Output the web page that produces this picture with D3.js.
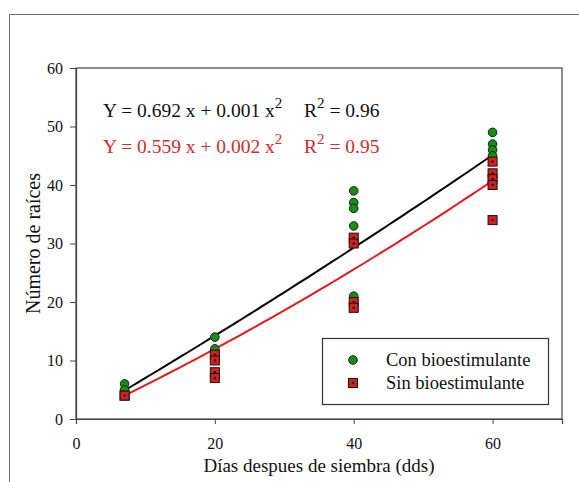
<!DOCTYPE html>
<html>
<head>
<meta charset="utf-8">
<script src="https://cdn.jsdelivr.net/npm/d3@7"></script>
<style>
  body { margin: 0; background: #fff; }
  svg text { font-family: "Liberation Serif", "Times New Roman", serif; }
</style>
</head>
<body>
<div id="chart"></div>
<script>
// Número de raíces vs días despues de siembra

// data
const conDays = [7, 7, 20, 20, 40, 40, 40, 40, 40, 60, 60, 60, 60]
const conRoots = [6, 5, 14, 12, 39, 37, 36, 33, 21, 49, 47, 46, 45]
const sinDays = [7, 7, 20, 20, 20, 20, 40, 40, 40, 40, 60, 60, 60, 60, 60]
const sinRoots = [4, 4, 11, 10, 8, 7, 31, 30, 20, 19, 44, 42, 41, 40, 34]

// regression coefficients (Y = a x + b x^2)
const conFit = [0.692, 0.001]
const sinFit = [0.559, 0.002]
const fitRange = [7, 60]

const xTicks = [0, 20, 40, 60]
const yTicks = [0, 10, 20, 30, 40, 50, 60]

const width = 579
const height = 482
const margin = { top: 68, right: 17, bottom: 63, left: 76 }

const svg = d3.select('#chart')
  .append('svg')
  .attr('width', width)
  .attr('height', height)

// outer frame (runs off the page right and bottom)
svg.append('rect')
  .attr('x', 9.5).attr('y', 14.5)
  .attr('width', 700).attr('height', 600)
  .attr('fill', 'none')
  .attr('stroke', '#6e6e6e')

const xScale = d3.scaleLinear()
  .domain([0, 70])
  .range([margin.left, width - margin.right])

const yScale = d3.scaleLinear()
  .domain([0, 60])
  .range([height - margin.bottom, margin.top])

// plot box
svg.append('rect')
  .attr('x', xScale(0)).attr('y', yScale(60))
  .attr('width', xScale(70) - xScale(0))
  .attr('height', yScale(0) - yScale(60))
  .attr('fill', 'none')
  .attr('stroke', '#444')
  .attr('stroke-width', 1.2)

const xAxis = d3.axisBottom(xScale).tickValues(xTicks).tickSizeOuter(0).tickSize(5).tickPadding(14)
const yAxis = d3.axisLeft(yScale).tickValues(yTicks).tickSizeOuter(0).tickSize(6).tickPadding(7)

svg.append('g')
  .attr('transform', `translate(0, ${yScale(0)})`)
  .call(xAxis)
svg.append('g')
  .attr('transform', `translate(${xScale(0)}, 0)`)
  .call(yAxis)

svg.selectAll('.domain').attr('stroke', '#444').attr('stroke-width', 1.2)
svg.selectAll('.tick line').attr('stroke', '#444')
svg.selectAll('.tick text')
  .attr('fill', '#111')
  .style('font-size', '16px')
  .style('font-family', '"Liberation Serif", serif')

// axis titles
svg.append('text')
  .attr('x', (xScale(0) + xScale(70)) / 2)
  .attr('y', 472)
  .attr('text-anchor', 'middle')
  .style('font-size', '19px')
  .attr('fill', '#111')
  .text('Días despues de siembra (dds)')

svg.append('text')
  .attr('transform', `translate(40, ${(yScale(0) + yScale(60)) / 2}) rotate(-90)`)
  .attr('text-anchor', 'middle')
  .style('font-size', '20px')
  .attr('fill', '#111')
  .text('Número de raíces')

// fitted curves
const fitPoints = (coef) => {
  const pts = []
  for (let x = fitRange[0]; x <= fitRange[1]; x += 1) {
    pts.push([x, coef[0] * x + coef[1] * x * x])
  }
  return pts
}
const line = d3.line()
  .x(d => xScale(d[0]))
  .y(d => yScale(d[1]))

svg.append('path')
  .datum(fitPoints(conFit))
  .attr('d', line)
  .attr('fill', 'none')
  .attr('stroke', '#000')
  .attr('stroke-width', 2)

svg.append('path')
  .datum(fitPoints(sinFit))
  .attr('d', line)
  .attr('fill', 'none')
  .attr('stroke', '#e01b1b')
  .attr('stroke-width', 2)

// markers
const green = '#1a8a1a'
const red = '#cc2222'

svg.append('g').selectAll('circle')
  .data(conDays.map((d, i) => [d, conRoots[i]]))
  .enter()
  .append('circle')
  .attr('cx', d => xScale(d[0]))
  .attr('cy', d => yScale(d[1]))
  .attr('r', 4.3)
  .attr('fill', green)
  .attr('stroke', '#0a2a0a')
  .attr('stroke-width', 1)

const drawSquare = (g, cx, cy) => {
  g.append('rect')
    .attr('x', cx - 4.5).attr('y', cy - 4.5)
    .attr('width', 9).attr('height', 9)
    .attr('fill', red)
    .attr('stroke', '#2a0a0a')
    .attr('stroke-width', 1)
  g.append('circle')
    .attr('cx', cx).attr('cy', cy)
    .attr('r', 1.2)
    .attr('fill', '#111')
}

const sq = svg.append('g')
sinDays.forEach((d, i) => drawSquare(sq, xScale(d), yScale(sinRoots[i])))

// equations
const eq = (y, color, a, b, r2) => {
  const t = svg.append('text')
    .attr('x', 103).attr('y', y)
    .attr('fill', color)
    .style('font-size', '19.5px')
  t.append('tspan').text(`Y = ${a} x + ${b} x`)
  t.append('tspan').attr('dy', -9).style('font-size', '15px').text('2')
  const t2 = svg.append('text')
    .attr('x', 304).attr('y', y)
    .attr('fill', color)
    .style('font-size', '19.5px')
  t2.append('tspan').text('R')
  t2.append('tspan').attr('dy', -9).style('font-size', '15px').text('2')
  t2.append('tspan').attr('dy', 9).text(` = ${r2}`)
}
eq(117, '#111', conFit[0].toFixed(3), conFit[1].toFixed(3), '0.96')
eq(153, '#d42a2a', sinFit[0].toFixed(3), sinFit[1].toFixed(3), '0.95')

// legend
const legend = svg.append('g')
legend.append('rect')
  .attr('x', 322.5).attr('y', 338.5)
  .attr('width', 226).attr('height', 66)
  .attr('fill', '#fff')
  .attr('stroke', '#333')
  .attr('stroke-width', 1.2)

legend.append('circle')
  .attr('cx', 353).attr('cy', 360)
  .attr('r', 4.3)
  .attr('fill', green)
  .attr('stroke', '#0a2a0a')
drawSquare(legend, 353, 383)

legend.append('text')
  .attr('x', 386).attr('y', 366)
  .style('font-size', '18.5px')
  .attr('fill', '#111')
  .text('Con bioestimulante')
legend.append('text')
  .attr('x', 386).attr('y', 389)
  .style('font-size', '18.5px')
  .attr('fill', '#111')
  .text('Sin bioestimulante')
</script>
</body>
</html>
